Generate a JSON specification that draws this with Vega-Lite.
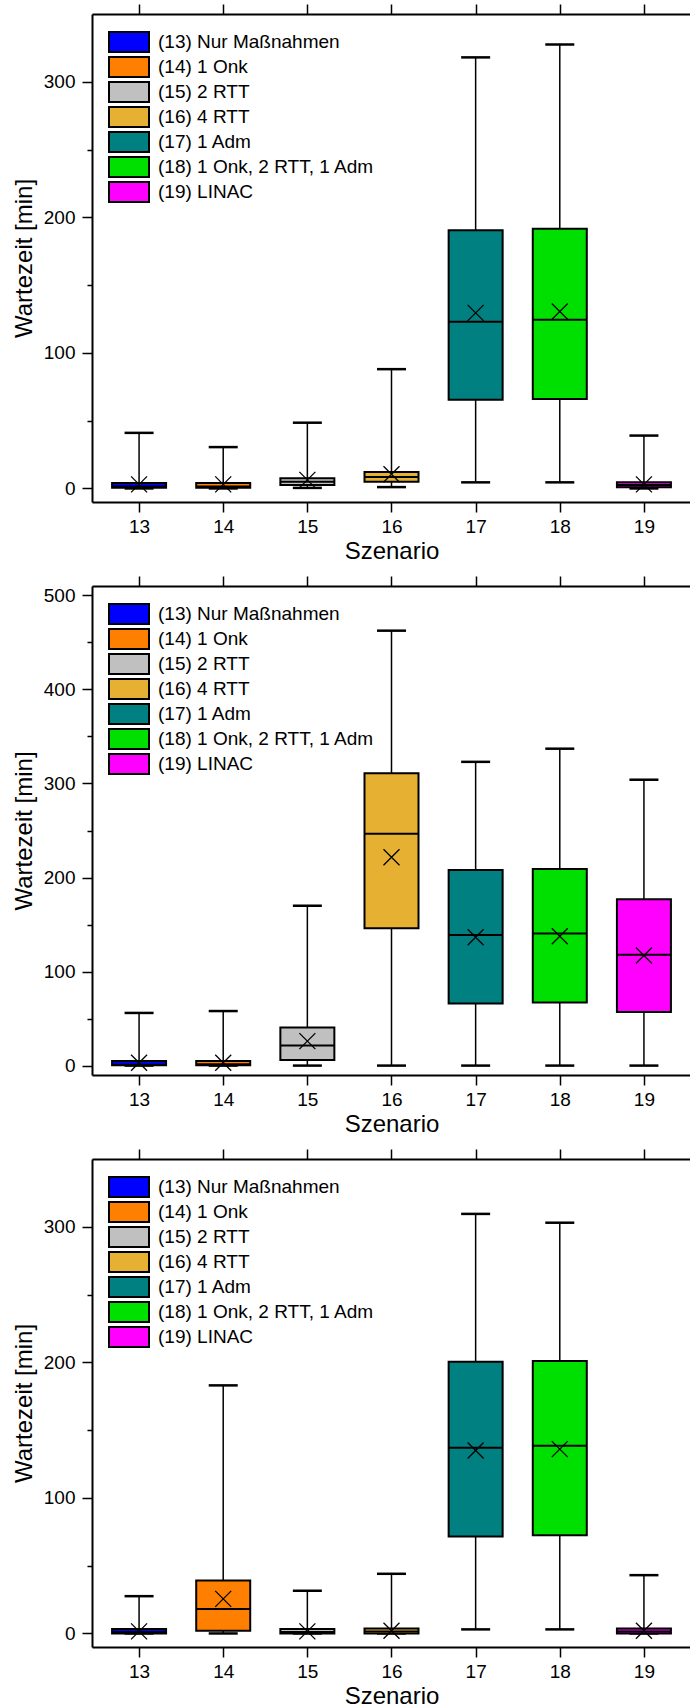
{
  "$schema": "https://vega.github.io/schema/vega-lite/v6.json",
  "padding": {"left": 12, "top": 3, "right": 0, "bottom": 0},
  "spacing": 84,
  "bounds": "flush",
  "datasets": {
    "p1": [
      {"s": 13, "label": "(13) Nur Maßnahmen", "lo": 0, "q1": 0.5, "med": 1.5, "q3": 4, "hi": 41, "mean": 3},
      {"s": 14, "label": "(14) 1 Onk", "lo": 0, "q1": 0.5, "med": 1.5, "q3": 4, "hi": 30.5, "mean": 3},
      {"s": 15, "label": "(15) 2 RTT", "lo": 0.4, "q1": 2.6, "med": 5, "q3": 7.6, "hi": 48.5, "mean": 6.3},
      {"s": 16, "label": "(16) 4 RTT", "lo": 1, "q1": 4.9, "med": 8.5, "q3": 12.2, "hi": 88, "mean": 10.5},
      {"s": 17, "label": "(17) 1 Adm", "lo": 4.5, "q1": 65.5, "med": 123, "q3": 190.5, "hi": 318, "mean": 129.5},
      {"s": 18, "label": "(18) 1 Onk, 2 RTT, 1 Adm", "lo": 4.5, "q1": 66, "med": 124.5, "q3": 191.5, "hi": 327.5, "mean": 130.5},
      {"s": 19, "label": "(19) LINAC", "lo": 0, "q1": 0.8, "med": 2.5, "q3": 4.5, "hi": 39, "mean": 3}
    ],
    "p2": [
      {"s": 13, "label": "(13) Nur Maßnahmen", "lo": 0, "q1": 0.5, "med": 1, "q3": 5, "hi": 56, "mean": 3},
      {"s": 14, "label": "(14) 1 Onk", "lo": 0, "q1": 0.5, "med": 1.5, "q3": 5, "hi": 58, "mean": 3},
      {"s": 15, "label": "(15) 2 RTT", "lo": 0, "q1": 6, "med": 21.5, "q3": 40.5, "hi": 170, "mean": 26},
      {"s": 16, "label": "(16) 4 RTT", "lo": 0, "q1": 146, "med": 246.5, "q3": 311, "hi": 462.5, "mean": 221.5},
      {"s": 17, "label": "(17) 1 Adm", "lo": 0, "q1": 66, "med": 139, "q3": 208, "hi": 323, "mean": 136.5},
      {"s": 18, "label": "(18) 1 Onk, 2 RTT, 1 Adm", "lo": 0, "q1": 67, "med": 140.5, "q3": 209, "hi": 337, "mean": 137.5},
      {"s": 19, "label": "(19) LINAC", "lo": 0, "q1": 57, "med": 118, "q3": 177, "hi": 304, "mean": 117}
    ],
    "p3": [
      {"s": 13, "label": "(13) Nur Maßnahmen", "lo": 0, "q1": 0, "med": 1, "q3": 3.2, "hi": 27.5, "mean": 1.5},
      {"s": 14, "label": "(14) 1 Onk", "lo": 0, "q1": 2, "med": 18, "q3": 39, "hi": 183, "mean": 25.5},
      {"s": 15, "label": "(15) 2 RTT", "lo": 0, "q1": 0, "med": 1, "q3": 3.2, "hi": 31.5, "mean": 1.5},
      {"s": 16, "label": "(16) 4 RTT", "lo": 0, "q1": 0, "med": 1.5, "q3": 3.6, "hi": 44, "mean": 2},
      {"s": 17, "label": "(17) 1 Adm", "lo": 3, "q1": 71.5, "med": 137, "q3": 200.5, "hi": 309.5, "mean": 135},
      {"s": 18, "label": "(18) 1 Onk, 2 RTT, 1 Adm", "lo": 3, "q1": 72.5, "med": 138.5, "q3": 201, "hi": 303, "mean": 136},
      {"s": 19, "label": "(19) LINAC", "lo": 0, "q1": 0, "med": 1.5, "q3": 3.6, "hi": 43, "mean": 2}
    ]
  },
  "vconcat": [
    {
      "width": 599, "height": 488,
      "data": {"name": "p1"},
      "encoding": {"x": {"field": "s", "type": "quantitative", "scale": {"domain": [12.5, 19.5], "nice": false, "zero": false}, "axis": null}},
      "layer": [
        {"mark": {"type": "rule", "color": "black", "strokeWidth": 1.5},
         "encoding": {
           "x": {"field": "s", "type": "quantitative", "scale": {"domain": [12.5, 19.5], "nice": false, "zero": false},
                 "axis": {"orient": "bottom", "values": [13, 14, 15, 16, 17, 18, 19], "format": "d", "title": "Szenario", "tickSize": 10, "labelPadding": 5, "titlePadding": 3, "labelFlush": false, "labelOverlap": false}},
           "y": {"field": "lo", "type": "quantitative", "scale": {"domain": [-10, 350], "nice": false, "zero": false},
                 "axis": {"values": [0, 50, 100, 150, 200, 250, 300], "labelExpr": "datum.value % 100 === 0 ? datum.label : ''", "tickSize": {"condition": {"test": "datum.value % 100 === 0", "value": 10}, "value": 5}, "title": "Wartezeit [min]"}},
           "y2": {"field": "hi"}}},
        {"mark": {"type": "tick", "orient": "horizontal", "size": 29, "thickness": 2.5, "color": "black", "opacity": 1},
         "encoding": {"y": {"field": "hi", "type": "quantitative", "scale": {"domain": [-10, 350], "nice": false, "zero": false}}}},
        {"mark": {"type": "tick", "orient": "horizontal", "size": 29, "thickness": 2.5, "color": "black", "opacity": 1},
         "encoding": {"y": {"field": "lo", "type": "quantitative", "scale": {"domain": [-10, 350], "nice": false, "zero": false}}}},
        {"mark": {"type": "bar", "size": 54, "stroke": "black", "strokeWidth": 2},
         "encoding": {
           "y": {"field": "q1", "type": "quantitative", "scale": {"domain": [-10, 350], "nice": false, "zero": false}},
           "y2": {"field": "q3"},
           "color": {"field": "label", "type": "nominal",
                     "scale": {"domain": ["(13) Nur Maßnahmen", "(14) 1 Onk", "(15) 2 RTT", "(16) 4 RTT", "(17) 1 Adm", "(18) 1 Onk, 2 RTT, 1 Adm", "(19) LINAC"],
                               "range": ["#0000FF", "#FF8000", "#C0C0C0", "#E6B133", "#008080", "#00E000", "#FF00FF"]},
                     "legend": {"orient": "top-left", "offset": 17, "padding": 0, "title": null, "symbolType": "M-2,-1H2V1H-2Z", "symbolSize": 400, "symbolStrokeColor": "black", "symbolStrokeWidth": 2, "symbolOffset": 9, "labelOffset": 18, "labelFontSize": 19, "labelColor": "black", "labelLimit": 400, "rowPadding": -6.5}}}},
        {"mark": {"type": "tick", "orient": "horizontal", "size": 54, "thickness": 2, "color": "black", "opacity": 1},
         "encoding": {"y": {"field": "med", "type": "quantitative", "scale": {"domain": [-10, 350], "nice": false, "zero": false}}}},
        {"mark": {"type": "point", "shape": "M-1,-1L1,1M1,-1L-1,1", "size": 256, "filled": false, "color": "black", "strokeWidth": 1.3, "opacity": 1},
         "encoding": {
           "x": {"field": "s", "type": "quantitative", "scale": {"domain": [12.5, 19.5], "nice": false, "zero": false},
                 "axis": {"orient": "top", "values": [13, 14, 15, 16, 17, 18, 19], "labels": false, "title": null, "tickSize": 10}},
           "y": {"field": "mean", "type": "quantitative", "scale": {"domain": [-10, 350], "nice": false, "zero": false}}}}
      ],
      "resolve": {"axis": {"x": "independent"}}
    },
    {
      "width": 599, "height": 489,
      "data": {"name": "p2"},
      "encoding": {"x": {"field": "s", "type": "quantitative", "scale": {"domain": [12.5, 19.5], "nice": false, "zero": false}, "axis": null}},
      "layer": [
        {"mark": {"type": "rule", "color": "black", "strokeWidth": 1.5},
         "encoding": {
           "x": {"field": "s", "type": "quantitative", "scale": {"domain": [12.5, 19.5], "nice": false, "zero": false},
                 "axis": {"orient": "bottom", "values": [13, 14, 15, 16, 17, 18, 19], "format": "d", "title": "Szenario", "tickSize": 10, "labelPadding": 5, "titlePadding": 3, "labelFlush": false, "labelOverlap": false}},
           "y": {"field": "lo", "type": "quantitative", "scale": {"domain": [-10, 510], "nice": false, "zero": false},
                 "axis": {"values": [0, 50, 100, 150, 200, 250, 300, 350, 400, 450, 500], "labelExpr": "datum.value % 100 === 0 ? datum.label : ''", "tickSize": {"condition": {"test": "datum.value % 100 === 0", "value": 10}, "value": 5}, "title": "Wartezeit [min]"}},
           "y2": {"field": "hi"}}},
        {"mark": {"type": "tick", "orient": "horizontal", "size": 29, "thickness": 2.5, "color": "black", "opacity": 1},
         "encoding": {"y": {"field": "hi", "type": "quantitative", "scale": {"domain": [-10, 510], "nice": false, "zero": false}}}},
        {"mark": {"type": "tick", "orient": "horizontal", "size": 29, "thickness": 2.5, "color": "black", "opacity": 1},
         "encoding": {"y": {"field": "lo", "type": "quantitative", "scale": {"domain": [-10, 510], "nice": false, "zero": false}}}},
        {"mark": {"type": "bar", "size": 54, "stroke": "black", "strokeWidth": 2},
         "encoding": {
           "y": {"field": "q1", "type": "quantitative", "scale": {"domain": [-10, 510], "nice": false, "zero": false}},
           "y2": {"field": "q3"},
           "color": {"field": "label", "type": "nominal",
                     "scale": {"domain": ["(13) Nur Maßnahmen", "(14) 1 Onk", "(15) 2 RTT", "(16) 4 RTT", "(17) 1 Adm", "(18) 1 Onk, 2 RTT, 1 Adm", "(19) LINAC"],
                               "range": ["#0000FF", "#FF8000", "#C0C0C0", "#E6B133", "#008080", "#00E000", "#FF00FF"]},
                     "legend": {"orient": "top-left", "offset": 17, "padding": 0, "title": null, "symbolType": "M-2,-1H2V1H-2Z", "symbolSize": 400, "symbolStrokeColor": "black", "symbolStrokeWidth": 2, "symbolOffset": 9, "labelOffset": 18, "labelFontSize": 19, "labelColor": "black", "labelLimit": 400, "rowPadding": -6.5}}}},
        {"mark": {"type": "tick", "orient": "horizontal", "size": 54, "thickness": 2, "color": "black", "opacity": 1},
         "encoding": {"y": {"field": "med", "type": "quantitative", "scale": {"domain": [-10, 510], "nice": false, "zero": false}}}},
        {"mark": {"type": "point", "shape": "M-1,-1L1,1M1,-1L-1,1", "size": 256, "filled": false, "color": "black", "strokeWidth": 1.3, "opacity": 1},
         "encoding": {
           "x": {"field": "s", "type": "quantitative", "scale": {"domain": [12.5, 19.5], "nice": false, "zero": false},
                 "axis": {"orient": "top", "values": [13, 14, 15, 16, 17, 18, 19], "labels": false, "title": null, "tickSize": 10}},
           "y": {"field": "mean", "type": "quantitative", "scale": {"domain": [-10, 510], "nice": false, "zero": false}}}}
      ],
      "resolve": {"axis": {"x": "independent"}}
    },
    {
      "width": 599, "height": 488,
      "data": {"name": "p3"},
      "encoding": {"x": {"field": "s", "type": "quantitative", "scale": {"domain": [12.5, 19.5], "nice": false, "zero": false}, "axis": null}},
      "layer": [
        {"mark": {"type": "rule", "color": "black", "strokeWidth": 1.5},
         "encoding": {
           "x": {"field": "s", "type": "quantitative", "scale": {"domain": [12.5, 19.5], "nice": false, "zero": false},
                 "axis": {"orient": "bottom", "values": [13, 14, 15, 16, 17, 18, 19], "format": "d", "title": "Szenario", "tickSize": 10, "labelPadding": 5, "titlePadding": 3, "labelFlush": false, "labelOverlap": false}},
           "y": {"field": "lo", "type": "quantitative", "scale": {"domain": [-10, 350], "nice": false, "zero": false},
                 "axis": {"values": [0, 50, 100, 150, 200, 250, 300], "labelExpr": "datum.value % 100 === 0 ? datum.label : ''", "tickSize": {"condition": {"test": "datum.value % 100 === 0", "value": 10}, "value": 5}, "title": "Wartezeit [min]"}},
           "y2": {"field": "hi"}}},
        {"mark": {"type": "tick", "orient": "horizontal", "size": 29, "thickness": 2.5, "color": "black", "opacity": 1},
         "encoding": {"y": {"field": "hi", "type": "quantitative", "scale": {"domain": [-10, 350], "nice": false, "zero": false}}}},
        {"mark": {"type": "tick", "orient": "horizontal", "size": 29, "thickness": 2.5, "color": "black", "opacity": 1},
         "encoding": {"y": {"field": "lo", "type": "quantitative", "scale": {"domain": [-10, 350], "nice": false, "zero": false}}}},
        {"mark": {"type": "bar", "size": 54, "stroke": "black", "strokeWidth": 2},
         "encoding": {
           "y": {"field": "q1", "type": "quantitative", "scale": {"domain": [-10, 350], "nice": false, "zero": false}},
           "y2": {"field": "q3"},
           "color": {"field": "label", "type": "nominal",
                     "scale": {"domain": ["(13) Nur Maßnahmen", "(14) 1 Onk", "(15) 2 RTT", "(16) 4 RTT", "(17) 1 Adm", "(18) 1 Onk, 2 RTT, 1 Adm", "(19) LINAC"],
                               "range": ["#0000FF", "#FF8000", "#C0C0C0", "#E6B133", "#008080", "#00E000", "#FF00FF"]},
                     "legend": {"orient": "top-left", "offset": 17, "padding": 0, "title": null, "symbolType": "M-2,-1H2V1H-2Z", "symbolSize": 400, "symbolStrokeColor": "black", "symbolStrokeWidth": 2, "symbolOffset": 9, "labelOffset": 18, "labelFontSize": 19, "labelColor": "black", "labelLimit": 400, "rowPadding": -6.5}}}},
        {"mark": {"type": "tick", "orient": "horizontal", "size": 54, "thickness": 2, "color": "black", "opacity": 1},
         "encoding": {"y": {"field": "med", "type": "quantitative", "scale": {"domain": [-10, 350], "nice": false, "zero": false}}}},
        {"mark": {"type": "point", "shape": "M-1,-1L1,1M1,-1L-1,1", "size": 256, "filled": false, "color": "black", "strokeWidth": 1.3, "opacity": 1},
         "encoding": {
           "x": {"field": "s", "type": "quantitative", "scale": {"domain": [12.5, 19.5], "nice": false, "zero": false},
                 "axis": {"orient": "top", "values": [13, 14, 15, 16, 17, 18, 19], "labels": false, "title": null, "tickSize": 10}},
           "y": {"field": "mean", "type": "quantitative", "scale": {"domain": [-10, 350], "nice": false, "zero": false}}}}
      ],
      "resolve": {"axis": {"x": "independent"}}
    }
  ],
  "resolve": {"scale": {"color": "independent"}, "legend": {"color": "independent"}},
  "config": {
    "font": "Liberation Sans",
    "view": {"stroke": null},
    "axis": {"domainColor": "black", "domainWidth": 2, "tickColor": "black", "tickWidth": 1.5, "labelColor": "black", "titleColor": "black", "labelFont": "Liberation Sans", "titleFont": "Liberation Sans", "labelFontSize": 19, "titleFontSize": 24, "titleFontWeight": "normal", "grid": false},
    "axisY": {"labelPadding": 7, "titlePadding": 7},
    "legend": {"labelFont": "Liberation Sans"}
  }
}
